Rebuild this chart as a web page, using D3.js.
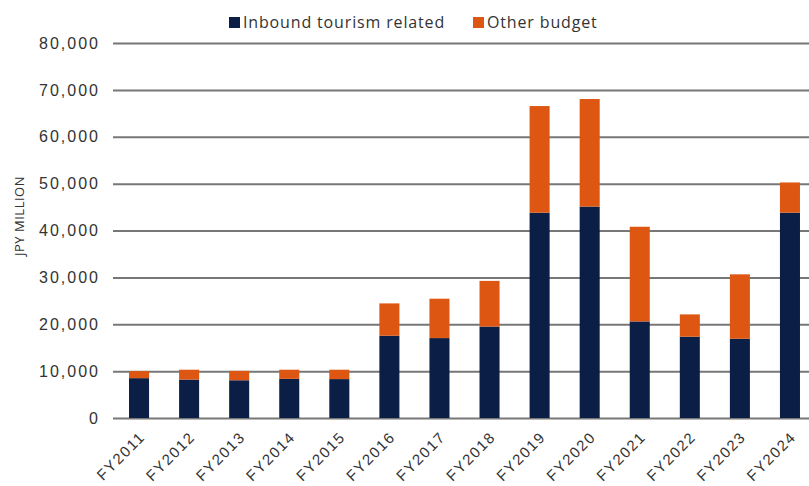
<!DOCTYPE html>
<html>
<head>
<meta charset="utf-8">
<script src="https://cdn.jsdelivr.net/npm/d3@7"></script>
<style>
  body { margin: 0; background: #fff; }
  svg { display: block; font-family: "Open Sans", sans-serif; }
</style>
</head>
<body>
<svg id="chart"></svg>
<script>
// values (JPY million)
const years = ["FY2011", "FY2012", "FY2013", "FY2014", "FY2015", "FY2016", "FY2017",
  "FY2018", "FY2019", "FY2020", "FY2021", "FY2022", "FY2023", "FY2024"];
const inbound = [8500, 8200, 8050, 8350, 8300, 17550, 17050, 19500, 43800, 45100, 20600, 17350, 16900, 43800];
const totals = [10000, 10300, 10050, 10300, 10300, 24450, 25450, 29250, 66550, 68050, 40800, 22100, 30650, 50250];
const other = totals.map((t, i) => t - inbound[i]);
const yTicks = [0, 10000, 20000, 30000, 40000, 50000, 60000, 70000, 80000];
const seriesNames = ["Inbound tourism related", "Other budget"];
const colors = ["#0b1e45", "#dd5713"];

const width = 809, height = 486;
const margin = { top: 43, right: -6, bottom: 68, left: 114 };

const svg = d3.select("#chart")
  .attr("width", width)
  .attr("height", height);

const innerW = width - margin.left - margin.right;
const innerH = height - margin.top - margin.bottom;

const chart = svg.append("g")
  .attr("transform", `translate(${margin.left},${margin.top})`);

const x = d3.scaleBand()
  .domain(years)
  .range([0, innerW])
  .paddingInner(0.6)
  .paddingOuter(0.3);

const y = d3.scaleLinear()
  .domain([0, 80000])
  .range([innerH, 0]);

// gridlines + tick labels
const yAxis = d3.axisLeft(y)
  .tickValues(yTicks)
  .tickSize(-innerW - 2)
  .tickPadding(13)
  .tickFormat(d3.format(","));

const yAxisG = chart.append("g")
  .attr("transform", "translate(-1,0)")
  .call(yAxis);
yAxisG.select(".domain").remove();
yAxisG.selectAll("line")
  .attr("stroke", "#777")
  .attr("stroke-width", 2);
yAxisG.selectAll("text")
  .attr("fill", "#333")
  .style("font-size", "16px")
  .style("letter-spacing", "2px");

// stacked bars
const rows = years.map((yr, i) => ({ year: yr, inbound: inbound[i], other: other[i] }));
const stack = d3.stack().keys(["inbound", "other"])(rows);

chart.selectAll("g.series")
  .data(stack)
  .join("g")
    .attr("class", "series")
    .attr("fill", (d, i) => colors[i])
  .selectAll("rect")
  .data(d => d)
  .join("rect")
    .attr("x", d => x(d.data.year))
    .attr("y", d => y(d[1]))
    .attr("width", x.bandwidth())
    .attr("height", d => y(d[0]) - y(d[1]));

// x axis labels
const xAxis = d3.axisBottom(x).tickSize(0).tickPadding(0);
const xAxisG = chart.append("g")
  .attr("transform", `translate(0,${innerH})`)
  .call(xAxis);
xAxisG.select(".domain").remove();
xAxisG.selectAll("text")
  .attr("fill", "#333")
  .style("font-size", "15px")
  .style("letter-spacing", "1.6px")
  .style("text-anchor", "end")
  .attr("dy", 0)
  .attr("transform", "translate(7,20) rotate(-45)");

// y axis title
svg.append("text")
  .attr("transform", "translate(24,216) rotate(-90)")
  .attr("text-anchor", "middle")
  .attr("fill", "#333")
  .style("font-size", "13px")
  .style("letter-spacing", "0.5px")
  .text("JPY MILLION");

// legend
const legend = svg.append("g").attr("transform", "translate(229,16)");
const legendX = [0, 244];
seriesNames.forEach((name, i) => {
  const g = legend.append("g").attr("transform", `translate(${legendX[i]},0)`);
  g.append("rect")
    .attr("width", 11)
    .attr("height", 11)
    .attr("y", 1)
    .attr("fill", colors[i]);
  g.append("text")
    .attr("x", 14)
    .attr("y", 12)
    .attr("fill", "#333")
    .style("font-size", "16px")
    .style("letter-spacing", "0.85px")
    .text(name);
});
</script>
</body>
</html>
